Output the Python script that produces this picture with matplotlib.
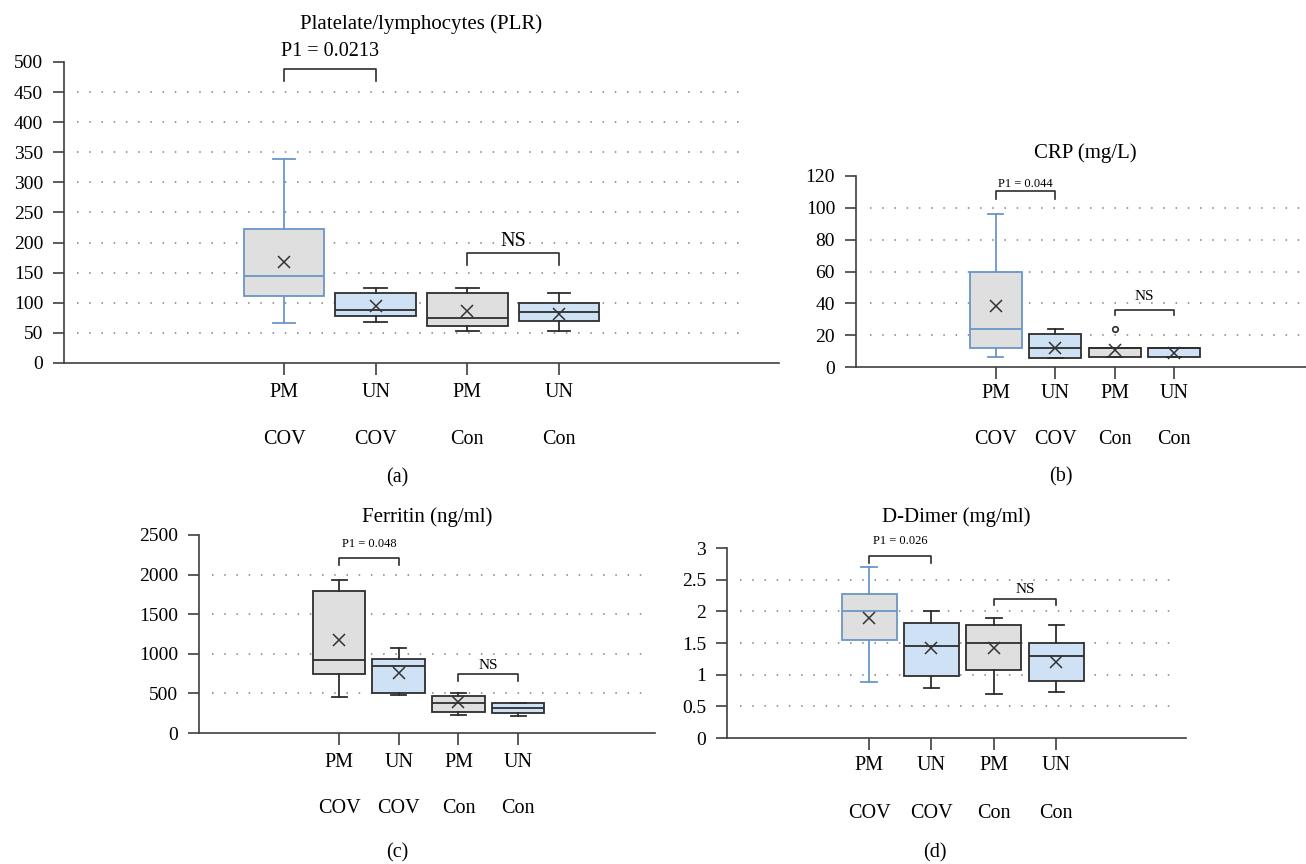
import matplotlib
matplotlib.use("Agg")
import matplotlib.pyplot as plt

plt.rcParams['font.family'] = 'Liberation Serif'

# group labels under each box (two rows)
groups = ['PM', 'UN', 'PM', 'UN']
subgroups = ['COV', 'COV', 'Con', 'Con']
positions = [1, 2, 3, 4]

# Platelet/lymphocyte ratio
plr_low = [66, 68, 53, 53]
plr_q1 = [111, 78, 61, 69]
plr_med = [145, 88, 74, 85]
plr_q3 = [222, 117, 116, 99]
plr_high = [338, 124, 124, 116]
plr_mean = [167, 94, 87, 82]
plr_fliers = [[], [], [], []]
plr_ticks = [0, 50, 100, 150, 200, 250, 300, 350, 400, 450, 500]

# CRP (mg/L)
crp_low = [6.3, 5.7, 6.3, 6.3]
crp_q1 = [12.1, 5.7, 6.3, 6.3]
crp_med = [23.9, 12.1, 12.1, 12.1]
crp_q3 = [60, 20.7, 12.1, 12.1]
crp_high = [96, 23.7, 12.1, 12.1]
crp_mean = [38.5, 12.1, 10.9, 8.8]
crp_fliers = [[], [], [23.9], []]
crp_ticks = [0, 20, 40, 60, 80, 100, 120]

# Ferritin (ng/ml)
fer_low = [450, 479, 231, 214]
fer_q1 = [744, 508, 269, 252]
fer_med = [920, 849, 374, 315]
fer_q3 = [1794, 937, 466, 374]
fer_high = [1929, 1076, 508, 374]
fer_mean = [1172, 760, 387, None]
fer_fliers = [[], [], [], []]
fer_ticks = [0, 500, 1000, 1500, 2000, 2500]

# D-Dimer (mg/ml)
dd_low = [0.88, 0.79, 0.70, 0.73]
dd_q1 = [1.55, 0.98, 1.07, 0.90]
dd_med = [2.01, 1.46, 1.50, 1.29]
dd_q3 = [2.28, 1.82, 1.78, 1.50]
dd_high = [2.70, 2.01, 1.90, 1.79]
dd_mean = [1.89, 1.42, 1.42, 1.20]
dd_fliers = [[], [], [], []]
dd_ticks = [0, 0.5, 1, 1.5, 2, 2.5, 3]
dd_ticklabels = ['0', '0.5', '1', '1.5', '2', '2.5', '3']

GRAY = '#e0dfdf'
BLUE = '#cfe1f5'
DARK = '#2e2e2e'
EDGE_BLUE = '#6b95c8'
AXIS = '#404040'


def draw_panel(ax, low, q1, med, q3, high, mean, fliers, first_edge):
    stats = []
    for i in range(4):
        stats.append(dict(whislo=low[i], q1=q1[i], med=med[i], q3=q3[i],
                          whishi=high[i], fliers=fliers[i]))
    parts = ax.bxp(stats, positions=positions, widths=0.88, capwidths=0.25,
                   patch_artist=True, showfliers=True, manage_ticks=False)
    fills = [GRAY, BLUE, GRAY, BLUE]
    edges = [first_edge, DARK, DARK, DARK]
    for i in range(4):
        box = parts['boxes'][i]
        box.set_facecolor(fills[i])
        box.set_edgecolor(edges[i])
        box.set_linewidth(1.3)
        parts['medians'][i].set_color(edges[i])
        parts['medians'][i].set_linewidth(1.3)
        for ln in parts['whiskers'][2 * i:2 * i + 2] + parts['caps'][2 * i:2 * i + 2]:
            ln.set_color(edges[i])
            ln.set_linewidth(1.3)
        parts['fliers'][i].set(marker='o', markersize=4, markerfacecolor='white',
                               markeredgecolor=DARK, markeredgewidth=1.2)
    mx = [p for p, m in zip(positions, mean) if m is not None]
    my = [m for m in mean if m is not None]
    ax.plot(mx, my, linestyle='none', marker='x', markersize=8,
            color='#333333', markeredgewidth=1.1, zorder=4)


def style_axes(ax, ticks, ticklabels, xlim, grid_span, title, title_off,
               row1_off, row2_off):
    ax.set_xlim(*xlim)
    ax.set_ylim(ticks[0], ticks[-1])
    ax.set_yticks(ticks)
    if ticklabels is not None:
        ax.set_yticklabels(ticklabels)
    ax.set_xticks(positions)
    ax.set_xticklabels([])
    for side in ['top', 'right']:
        ax.spines[side].set_visible(False)
    for side in ['left', 'bottom']:
        ax.spines[side].set_color(AXIS)
        ax.spines[side].set_linewidth(1.2)
    ax.tick_params(axis='y', direction='out', length=8, width=1.2,
                   color=AXIS, labelsize=14, pad=7)
    ax.tick_params(axis='x', direction='out', length=8.5, width=1.2, color=AXIS)
    ax.hlines(ticks[1:-1], grid_span[0], grid_span[1],
              transform=ax.get_yaxis_transform(), colors='#808080',
              linestyles=(0, (1, 7)), linewidth=1.1, zorder=1)
    ax.annotate(title, xy=(0.5, 1), xycoords='axes fraction',
                xytext=(0, title_off), textcoords='offset points',
                ha='center', va='center', fontsize=15)
    for p, g, s in zip(positions, groups, subgroups):
        ax.annotate(g, xy=(p, 0), xycoords=('data', 'axes fraction'),
                    xytext=(0, -row1_off), textcoords='offset points',
                    ha='center', va='center', fontsize=14.5)
        ax.annotate(s, xy=(p, 0), xycoords=('data', 'axes fraction'),
                    xytext=(0, -row2_off), textcoords='offset points',
                    ha='center', va='center', fontsize=14.5)


def bracket(ax, x0, x1, y, leg, label, text_y, size):
    ax.plot([x0, x0, x1, x1], [leg, y, y, leg], color=DARK, linewidth=1.2,
            clip_on=False, zorder=3)
    ax.text((x0 + x1) / 2, text_y, label, ha='center', va='center',
            fontsize=size, clip_on=False)


fig = plt.figure(figsize=(13.06, 8.64), dpi=100)

ax_a = fig.add_axes([0.0490, 0.5799, 0.5475, 0.3484])
ax_b = fig.add_axes([0.6554, 0.5752, 0.3507, 0.2211])
ax_c = fig.add_axes([0.1524, 0.1516, 0.3492, 0.2292])
ax_d = fig.add_axes([0.5567, 0.1458, 0.3515, 0.2199])

# (a) PLR
draw_panel(ax_a, plr_low, plr_q1, plr_med, plr_q3, plr_high, plr_mean,
           plr_fliers, EDGE_BLUE)
style_axes(ax_a, plr_ticks, None, (-1.40, 6.40), (0.018, 0.958),
           'Platelate/lymphocytes (PLR)', 27.4, 21, 55)
bracket(ax_a, 1, 2, 488, 469, 'P1 = 0.0213', 517, 14.5)
bracket(ax_a, 3, 4, 182, 162, 'NS', 201, 14.5)

# (b) CRP
draw_panel(ax_b, crp_low, crp_q1, crp_med, crp_q3, crp_high, crp_mean,
           crp_fliers, EDGE_BLUE)
style_axes(ax_b, crp_ticks, None, (-1.357, 6.357), (0.03, 1.0),
           'CRP (mg/L)', 16.6, 19, 52.5)
bracket(ax_b, 1, 2, 110.4, 105.3, 'P1 = 0.044', 115, 9)
bracket(ax_b, 3, 4, 36, 32.7, 'NS', 44.6, 11)

# (c) Ferritin
draw_panel(ax_c, fer_low, fer_q1, fer_med, fer_q3, fer_high, fer_mean,
           fer_fliers, DARK)
style_axes(ax_c, fer_ticks, None, (-1.345, 6.293), (0.029, 0.978),
           'Ferritin (ng/ml)', 13, 21.5, 54)
bracket(ax_c, 1, 2, 2206, 2122, 'P1 = 0.048', 2382, 9)
bracket(ax_c, 3, 4, 744, 651, 'NS', 853, 11)

# (d) D-Dimer
draw_panel(ax_d, dd_low, dd_q1, dd_med, dd_q3, dd_high, dd_mean,
           dd_fliers, EDGE_BLUE)
style_axes(ax_d, dd_ticks, dd_ticklabels, (-1.276, 6.08), (0.028, 0.974),
           'D-Dimer (mg/ml)', 22.3, 20, 54)
bracket(ax_d, 1, 2, 2.87, 2.77, 'P1 = 0.026', 3.11, 9)
bracket(ax_d, 3, 4, 2.20, 2.10, 'NS', 2.35, 11)

fig.text(397 / 1306, 1 - 478 / 864, '(a)', ha='center', va='center', fontsize=14.5)
fig.text(1061 / 1306, 1 - 477 / 864, '(b)', ha='center', va='center', fontsize=14.5)
fig.text(397 / 1306, 1 - 853 / 864, '(c)', ha='center', va='center', fontsize=14.5)
fig.text(935 / 1306, 1 - 853 / 864, '(d)', ha='center', va='center', fontsize=14.5)

fig.savefig('out.png', dpi=100)
